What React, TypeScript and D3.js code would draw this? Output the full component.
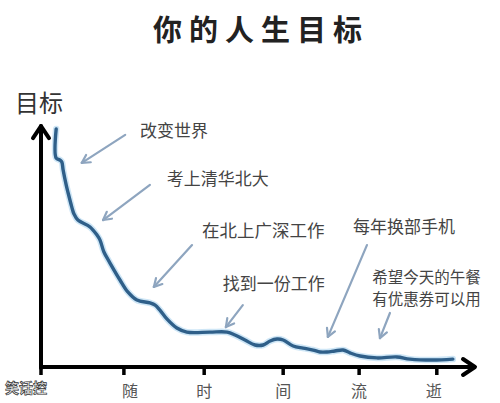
import React from "react";
import * as d3 from "d3";

const W = 500;
const H = 403;

// curve: time (0..100) vs goal (0..100)
const curveTime = [3.5, 3.5, 4.4, 4.8, 5.1, 5.8, 6.2, 7.1, 7.6, 8.5, 11.3, 12.9, 13.6, 14.5, 15.9, 18.2, 20.0, 22.1, 25.1, 26.3, 27.4, 29.0, 31.3, 33.6, 38.9, 42.9, 44.7, 47.0, 49.3, 51.2, 52.8, 54.4, 55.8, 58.1, 60.4, 62.7, 64.3, 65.9, 67.7, 69.6, 71.2, 73.5, 77.4, 82.0, 85.0, 90.3, 94.9];
const curveGoal = [99.6, 87.4, 86.6, 85.8, 82.4, 76.2, 73.2, 66.9, 64.0, 61.5, 58.6, 55.2, 53.1, 48.1, 43.5, 36.4, 31.4, 28.0, 26.8, 25.9, 23.8, 20.1, 16.3, 14.6, 14.6, 14.6, 13.4, 11.3, 9.2, 9.2, 10.9, 11.7, 11.3, 8.8, 7.9, 7.1, 6.3, 6.3, 6.7, 7.1, 5.9, 4.6, 3.8, 4.2, 3.3, 2.9, 3.3];

const tickValues = [0, 19.1, 37.6, 55.8, 73.3, 91.2];
const tickLabels = ["", "随", "时", "间", "流", "逝"];

const title = "你的人生目标";
const yLabel = "目标";
const watermark = "笑话控";

// annotations: text lines, arrow from (t0,g0) to (t1,g1) in data units
const annoText = [["改变世界"], ["考上清华北大"], ["在北上广深工作"], ["找到一份工作"], ["每年换部手机"], ["希望今天的午餐", "有优惠券可以用"]];
const annoFrom = [[19.4, 97.1], [25.1, 76.2], [34.8, 51.0], [46.5, 25.9], [75.1, 51.0], [80.4, 22.6]];
const annoTo = [[9.4, 85.4], [14.3, 61.5], [26.0, 33.5], [42.6, 16.7], [66.1, 12.6], [78.1, 12.1]];
const annoLabelAt = [[22.8, 99.3], [29.0, 79.3], [37.1, 57.5], [41.9, 35.4], [71.9, 59.4], [76.3, 37.9]];
const annoSize = [17, 17, 17.5, 17, 17, 15.5];
const annoLineGap = [0, 0, 0, 0, 0, 22];

const x = d3.scaleLinear().domain([0, 100]).range([41, 475]);
const y = d3.scaleLinear().domain([0, 100]).range([367, 128]);

export default function App() {
  const pts: [number, number][] = curveTime.map((t, i) => [x(t), y(curveGoal[i])]);
  const line = d3.line().curve(d3.curveCatmullRom.alpha(0.5));
  const d = line(pts) || "";
  const font = "'Noto Sans CJK SC', 'Noto Sans', sans-serif";
  const x0 = x(0);
  const y0 = y(0);
  const xEnd = x(100);
  const yTop = y(100.8);

  return (
    <svg width={W} height={H} style={{ position: "absolute", left: 0, top: 0, background: "#fff" }}>
      <rect x={0} y={0} width={W} height={H} fill="#ffffff" />
      <text x={153} y={28} fontFamily={font} fontWeight={700} fontSize={29} letterSpacing={7} fill="#222" dominantBaseline="central">
        {title}
      </text>
      <text x={15} y={101} fontFamily={font} fontSize={24} fill="#333" dominantBaseline="central">
        {yLabel}
      </text>

      {/* annotation arrows */}
      {annoFrom.map((f, i) => {
        const x1 = x(f[0]), y1 = y(f[1]);
        const x2 = x(annoTo[i][0]), y2 = y(annoTo[i][1]);
        const ang = Math.atan2(y2 - y1, x2 - x1);
        const L = 9;
        const a1 = ang + Math.PI - 0.5;
        const a2 = ang + Math.PI + 0.5;
        return (
          <g key={"a" + i} stroke="#8ea5bf" strokeWidth={2.2} fill="none" strokeLinecap="round">
            <line x1={x1} y1={y1} x2={x2} y2={y2} />
            <line x1={x2} y1={y2} x2={x2 + L * Math.cos(a1)} y2={y2 + L * Math.sin(a1)} />
            <line x1={x2} y1={y2} x2={x2 + L * Math.cos(a2)} y2={y2 + L * Math.sin(a2)} />
          </g>
        );
      })}
      {annoText.map((lines, i) =>
        lines.map((s, j) => (
          <text
            key={"t" + i + "_" + j}
            x={x(annoLabelAt[i][0])}
            y={y(annoLabelAt[i][1]) + j * annoLineGap[i]}
            fontFamily={font}
            fontSize={annoSize[i]}
            fill="#444"
            dominantBaseline="central"
          >
            {s}
          </text>
        ))
      )}

      {/* curve */}
      <path d={d} fill="none" stroke="#b9dcf2" strokeWidth={6.5} strokeLinecap="round" strokeLinejoin="round" opacity={0.7} />
      <path d={d} fill="none" stroke="#2f5f89" strokeWidth={3.4} strokeLinecap="round" strokeLinejoin="round" />

      {/* axes */}
      <g stroke="#000" strokeWidth={4} fill="none" strokeLinecap="round" strokeLinejoin="round">
        <line x1={x0} y1={y0 + 1} x2={x0} y2={yTop} />
        <polyline points={`${x0 - 8},${yTop + 12} ${x0},${yTop} ${x0 + 8},${yTop + 12}`} />
        <line x1={x0} y1={y0} x2={xEnd - 1} y2={y0} />
        <polyline points={`${xEnd - 12},${y0 - 8} ${xEnd},${y0} ${xEnd - 12},${y0 + 8}`} />
      </g>
      {tickValues.map((v, i) => (
        <g key={"k" + i}>
          <line x1={x(v)} y1={y0} x2={x(v)} y2={y0 + 8} stroke="#000" strokeWidth={3.5} />
          {tickLabels[i] && (
            <text x={x(v) + (i === 1 ? 6 : i === 5 ? -3 : 0)} y={390} fontFamily={font} fontSize={16} fill="#555" textAnchor="middle" dominantBaseline="central">
              {tickLabels[i]}
            </text>
          )}
        </g>
      ))}
      <text x={5} y={387} fontFamily={font} fontWeight={700} fontSize={14} fill="#eee" stroke="#333" strokeWidth={0.7} dominantBaseline="central">
        {watermark}
      </text>
    </svg>
  );
}
